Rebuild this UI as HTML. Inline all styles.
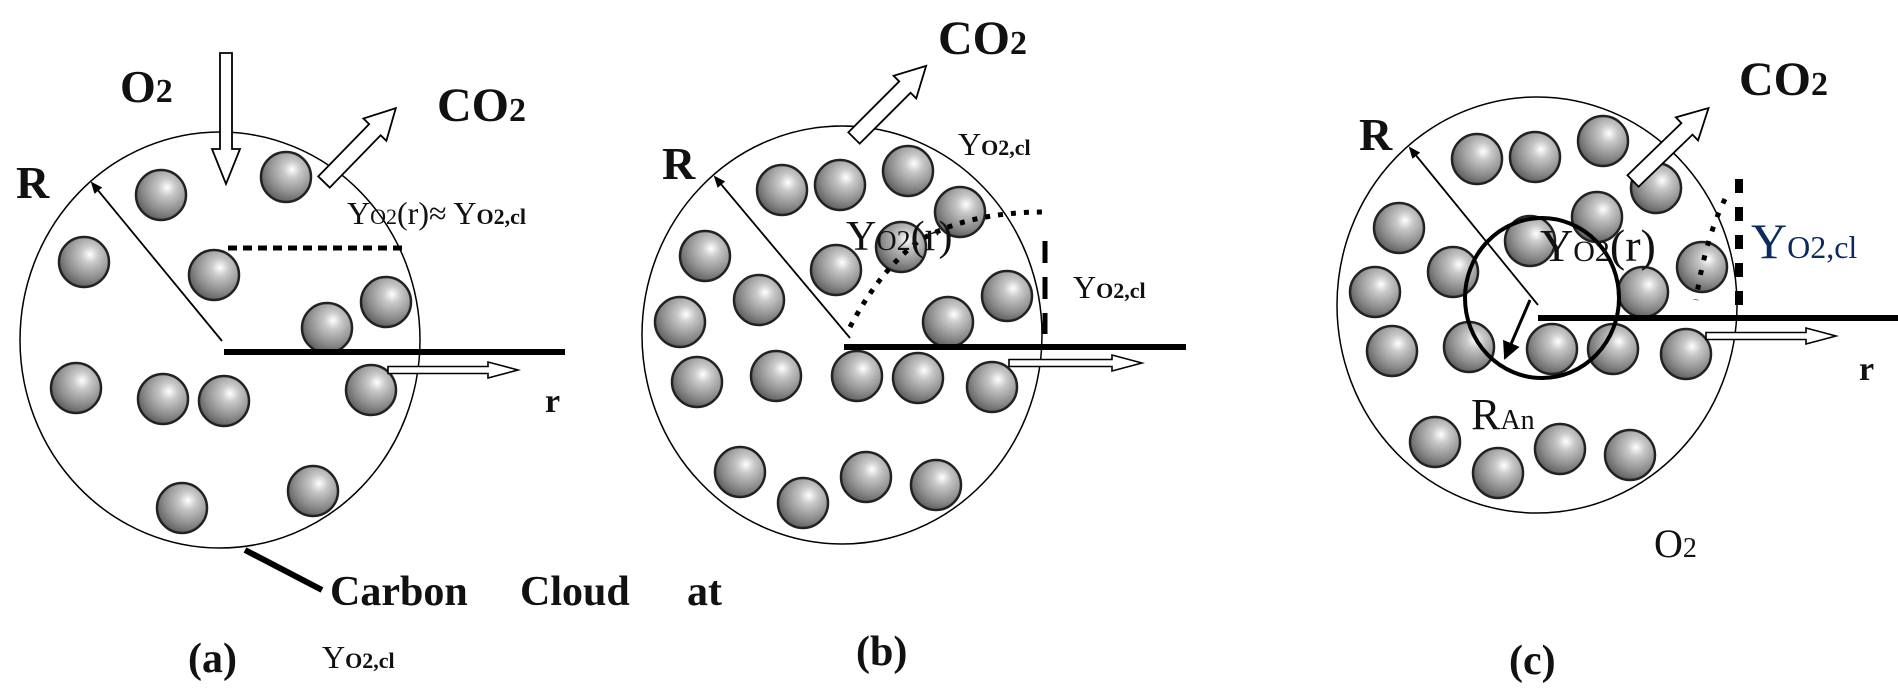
<!DOCTYPE html>
<html><head><meta charset="utf-8"><style>
html,body{margin:0;padding:0;background:#fff}
svg{display:block}
text{font-family:"Liberation Serif",serif;fill:#111}
</style></head><body>
<svg width="1898" height="693" viewBox="0 0 1898 693" xmlns="http://www.w3.org/2000/svg">
<defs>
<radialGradient id="sg" cx="0.62" cy="0.35" r="0.7">
<stop offset="0" stop-color="#ffffff"/>
<stop offset="0.25" stop-color="#c8c8c8"/>
<stop offset="0.7" stop-color="#8a8a8a"/>
<stop offset="1" stop-color="#5a5a5a"/>
</radialGradient>
<marker id="ah" markerWidth="12" markerHeight="10" refX="10" refY="5" orient="auto" markerUnits="userSpaceOnUse">
<path d="M0,0 L12,5 L0,10 Z" fill="#000"/>
</marker>
<marker id="ah2" markerWidth="20" markerHeight="18" refX="16" refY="9" orient="auto" markerUnits="userSpaceOnUse">
<path d="M0,0 L18,9 L0,18 Z" fill="#000"/>
</marker>
<g id="s"><circle r="25" fill="url(#sg)" stroke="#222" stroke-width="2.5"/></g>
</defs>

<!-- ===== Panel (a) ===== -->
<ellipse cx="220" cy="340" rx="200" ry="208" fill="none" stroke="#000" stroke-width="1.5"/>
<g>
<use href="#s" x="161" y="195"/><use href="#s" x="286" y="177"/><use href="#s" x="84" y="262"/>
<use href="#s" x="214" y="275"/><use href="#s" x="386" y="302"/><use href="#s" x="327" y="328"/>
<use href="#s" x="76" y="388"/><use href="#s" x="163" y="399"/><use href="#s" x="224" y="401"/>
<use href="#s" x="371" y="390"/><use href="#s" x="182" y="508"/><use href="#s" x="313" y="491"/>
</g>
<line x1="224" y1="352" x2="565" y2="352" stroke="#000" stroke-width="6"/>
<line x1="222" y1="341" x2="92" y2="183" stroke="#000" stroke-width="1.8" marker-end="url(#ah)"/>
<line x1="228" y1="248" x2="408" y2="248" stroke="#000" stroke-width="5" stroke-dasharray="9,6"/>
<g transform="translate(226,53) rotate(90)"><path d="M0,-6 L96,-6 L96,-14 L131,0 L96,14 L96,6 L0,6 Z" fill="#fff" stroke="#000" stroke-width="1.8"/></g>
<g transform="translate(324,182) rotate(-45.8)"><path d="M0,-8 L73,-8 L73,-16 L103,0 L73,16 L73,8 L0,8 Z" fill="#fff" stroke="#000" stroke-width="1.8"/></g>
<g transform="translate(388,370)"><path d="M0,-3.5 L100,-3.5 L100,-8 L130,0 L100,8 L100,3.5 L0,3.5 Z" fill="#fff" stroke="#000" stroke-width="1.6"/></g>
<text x="16" y="198" font-size="46" font-weight="bold">R</text>
<text x="120" y="102" font-size="46" font-weight="bold">O<tspan font-size="34">2</tspan></text>
<text x="437" y="121" font-size="48" font-weight="bold">CO<tspan font-size="34">2</tspan></text>
<text x="347" y="224" font-size="32">Y<tspan font-size="22">O2</tspan>(r)≈ Y<tspan font-size="22" font-weight="bold">O2,cl</tspan></text>
<text x="545" y="412" font-size="34" font-weight="bold">r</text>
<line x1="245" y1="550" x2="322" y2="590" stroke="#000" stroke-width="6"/>
<text x="330" y="605" font-size="42" font-weight="bold">Carbon</text>
<text x="520" y="605" font-size="42" font-weight="bold">Cloud</text>
<text x="687" y="605" font-size="42" font-weight="bold">at</text>
<text x="188" y="672" font-size="42" font-weight="bold">(a)</text>
<text x="322" y="668" font-size="32">Y<tspan font-size="22" font-weight="bold">O2,cl</tspan></text>

<!-- ===== Panel (b) ===== -->
<ellipse cx="842" cy="335" rx="200" ry="209" fill="none" stroke="#000" stroke-width="1.5"/>
<g>
<use href="#s" x="782" y="190"/><use href="#s" x="840" y="185"/><use href="#s" x="908" y="171"/>
<use href="#s" x="960" y="212"/><use href="#s" x="836" y="270"/><use href="#s" x="901" y="247"/>
<use href="#s" x="705" y="256"/><use href="#s" x="759" y="300"/><use href="#s" x="680" y="322"/>
<use href="#s" x="1007" y="296"/><use href="#s" x="948" y="322"/><use href="#s" x="697" y="382"/>
<use href="#s" x="776" y="376"/><use href="#s" x="857" y="376"/><use href="#s" x="918" y="378"/>
<use href="#s" x="992" y="387"/><use href="#s" x="740" y="472"/><use href="#s" x="803" y="503"/>
<use href="#s" x="866" y="477"/><use href="#s" x="936" y="485"/>
</g>
<line x1="844" y1="347" x2="1186" y2="347" stroke="#000" stroke-width="6"/>
<line x1="850" y1="338" x2="715" y2="177" stroke="#000" stroke-width="1.8" marker-end="url(#ah)"/>
<path d="M850,327 Q880,270 920,240 Q970,212 1044,212" fill="none" stroke="#000" stroke-width="5" stroke-dasharray="5,8"/>
<line x1="1045" y1="241" x2="1045" y2="334" stroke="#000" stroke-width="5" stroke-dasharray="22,14"/>
<g transform="translate(854,138) rotate(-45)"><path d="M0,-8 L72,-8 L72,-16 L102,0 L72,16 L72,8 L0,8 Z" fill="#fff" stroke="#000" stroke-width="1.8"/></g>
<g transform="translate(1009,363)"><path d="M0,-3.5 L103,-3.5 L103,-8 L133,0 L103,8 L103,3.5 L0,3.5 Z" fill="#fff" stroke="#000" stroke-width="1.6"/></g>
<text x="662" y="179" font-size="46" font-weight="bold">R</text>
<text x="938" y="54" font-size="48" font-weight="bold">CO<tspan font-size="34">2</tspan></text>
<text x="958" y="155" font-size="32">Y<tspan font-size="22" font-weight="bold">O2,cl</tspan></text>
<text x="1073" y="298" font-size="32">Y<tspan font-size="22" font-weight="bold">O2,cl</tspan></text>
<text x="846" y="250" font-size="42">Y<tspan font-size="28">O2</tspan>(r)</text>
<text x="856" y="665" font-size="42" font-weight="bold">(b)</text>

<!-- ===== Panel (c) ===== -->
<ellipse cx="1537" cy="305" rx="200" ry="208" fill="none" stroke="#000" stroke-width="1.5"/>
<g>
<use href="#s" x="1477" y="159"/><use href="#s" x="1535" y="157"/><use href="#s" x="1603" y="141"/>
<use href="#s" x="1656" y="188"/><use href="#s" x="1597" y="217"/><use href="#s" x="1530" y="241"/>
<use href="#s" x="1399" y="228"/><use href="#s" x="1453" y="272"/><use href="#s" x="1375" y="292"/>
<use href="#s" x="1643" y="292"/><use href="#s" x="1702" y="267"/><use href="#s" x="1392" y="351"/>
<use href="#s" x="1469" y="347"/><use href="#s" x="1552" y="349"/><use href="#s" x="1613" y="349"/>
<use href="#s" x="1686" y="354"/><use href="#s" x="1435" y="442"/><use href="#s" x="1498" y="473"/>
<use href="#s" x="1560" y="449"/><use href="#s" x="1630" y="455"/>
</g>
<ellipse cx="1542" cy="298" rx="77" ry="80" fill="none" stroke="#000" stroke-width="4"/>
<line x1="1538" y1="318" x2="1898" y2="318" stroke="#000" stroke-width="6"/>
<line x1="1538" y1="305" x2="1410" y2="148" stroke="#000" stroke-width="1.8" marker-end="url(#ah)"/>
<line x1="1530" y1="300" x2="1505" y2="358" stroke="#000" stroke-width="3" marker-end="url(#ah2)"/>
<path d="M1725,199 Q1705,240 1696,300" fill="none" stroke="#000" stroke-width="5" stroke-dasharray="5,10"/>
<line x1="1739" y1="179" x2="1739" y2="309" stroke="#000" stroke-width="8" stroke-dasharray="14,14"/>
<g transform="translate(1633,181) rotate(-44)"><path d="M0,-8 L75,-8 L75,-16 L105,0 L75,16 L75,8 L0,8 Z" fill="#fff" stroke="#000" stroke-width="1.8"/></g>
<g transform="translate(1706,336)"><path d="M0,-3.5 L100,-3.5 L100,-8 L130,0 L100,8 L100,3.5 L0,3.5 Z" fill="#fff" stroke="#000" stroke-width="1.6"/></g>
<text x="1359" y="150" font-size="46" font-weight="bold">R</text>
<text x="1739" y="95" font-size="48" font-weight="bold">CO<tspan font-size="34">2</tspan></text>
<text x="1540" y="261" font-size="46">Y<tspan font-size="30">O2</tspan>(r)</text>
<text x="1751" y="258" font-size="50" style="fill:#0a2a60">Y<tspan font-size="32" style="fill:#0a2a60">O2,cl</tspan></text>
<text x="1859" y="380" font-size="34" font-weight="bold">r</text>
<text x="1471" y="429" font-size="44">R<tspan font-size="28">An</tspan></text>
<text x="1654" y="557" font-size="40">O<tspan font-size="28">2</tspan></text>
<text x="1509" y="674" font-size="42" font-weight="bold">(c)</text>
</svg>
</body></html>
